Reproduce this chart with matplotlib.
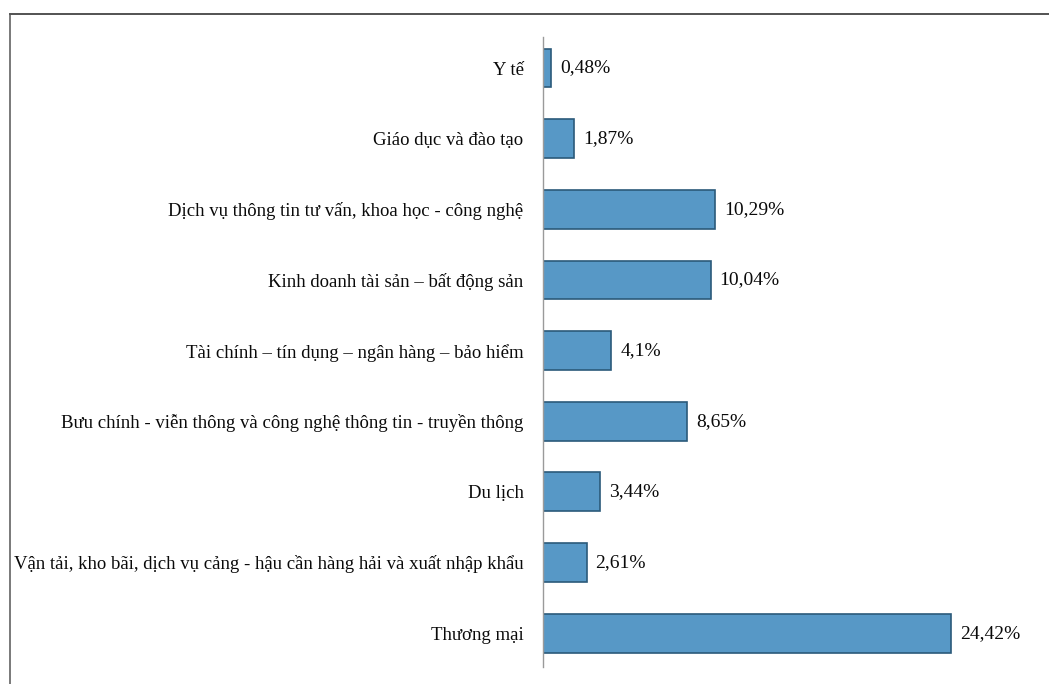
import matplotlib
matplotlib.use("Agg")
import matplotlib.pyplot as plt
from matplotlib.lines import Line2D

categories = [
    "Y tế",
    "Giáo dục và đào tạo",
    "Dịch vụ thông tin tư vấn, khoa học - công nghệ",
    "Kinh doanh tài sản – bất động sản",
    "Tài chính – tín dụng – ngân hàng – bảo hiểm",
    "Bưu chính - viễn thông và công nghệ thông tin - truyền thông",
    "Du lịch",
    "Vận tải, kho bãi, dịch vụ cảng - hậu cần hàng hải và xuất nhập khẩu",
    "Thương mại",
]
values = [0.48, 1.87, 10.29, 10.04, 4.1, 8.65, 3.44, 2.61, 24.42]
value_labels = ["0,48%", "1,87%", "10,29%", "10,04%", "4,1%", "8,65%", "3,44%", "2,61%", "24,42%"]

plt.rcParams['font.family'] = ['Liberation Serif', 'DejaVu Serif']

W, H = 1049, 684
fig = plt.figure(figsize=(W / 100, H / 100), dpi=100)
fig.patch.set_facecolor('white')

ax_left, ax_right = 543, 1049
ax_top, ax_bottom = 37, 667
ax = fig.add_axes([ax_left / W, 1 - ax_bottom / H, (ax_right - ax_left) / W, (ax_bottom - ax_top) / H])

pos = list(range(len(categories)))
ax.barh(pos, values, height=0.55, color='#5798C6', edgecolor='#2B5A7A', linewidth=1.2)
ax.set_ylim(len(categories) - 1 + 0.48, -0.44)
ax.set_xlim(0, (ax_right - ax_left) / 16.7)

ax.set_yticks(pos)
ax.set_yticklabels(categories, fontsize=13.5)
ax.tick_params(axis='y', length=0, pad=14, labelcolor='#0a0a0a')
ax.set_xticks([])

for s in ['top', 'right', 'bottom']:
    ax.spines[s].set_visible(False)
ax.spines['left'].set_color('#9a9a9a')
ax.spines['left'].set_linewidth(1.0)

for p, v, lab in zip(pos, values, value_labels):
    ax.annotate(lab, (v, p), xytext=(6.5, 0), textcoords='offset points',
                va='center', ha='left', fontsize=14, color='#0a0a0a')

# outer frame lines (top and left) of the scanned figure
fig.add_artist(Line2D([10 / W, 1.0], [1 - 14 / H, 1 - 14 / H], transform=fig.transFigure,
                      color='#444444', linewidth=1.3))
fig.add_artist(Line2D([10 / W, 10 / W], [0.0, 1 - 14 / H], transform=fig.transFigure,
                      color='#555555', linewidth=1.1))

fig.savefig('out.png', dpi=100, facecolor='white')
